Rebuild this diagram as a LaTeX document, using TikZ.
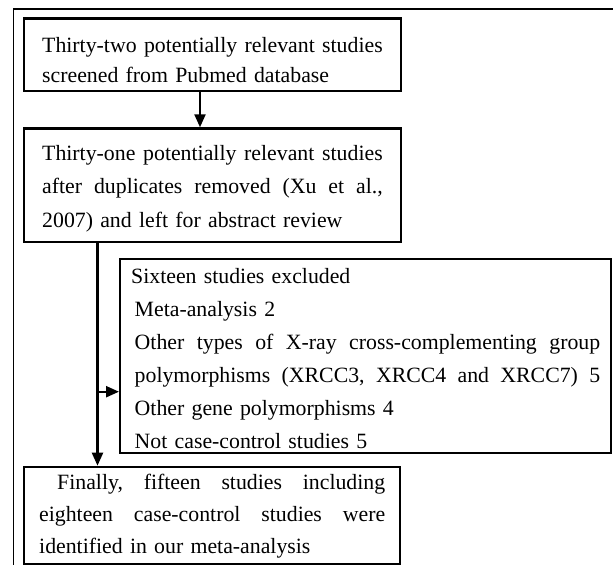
\documentclass[tikz,border=0pt]{standalone}
\usepackage{fontspec}
\setmainfont{Liberation Serif}
\usetikzlibrary{arrows.meta}
\newcommand{\jl}[2]{\makebox[#1][l]{#2}}
\begin{document}
\begin{tikzpicture}[x=1bp,y=-1bp,
  box/.style={draw,line width=2.4bp,anchor=north west,inner ysep=0pt,align=left},
  conn/.style={line width=2.2bp,-{Triangle[length=13bp,width=11bp]}},
  frame/.style={line width=1.8bp}]
\useasboundingbox (0,0) rectangle (613,565);
\draw[frame] (13.5,565) -- (13.5,9) -- (613,9);
% box 1
\node[box,inner xsep=18.5bp,text width=340.5bp,text height=34.2bp,text depth=38.3bp,
  font=\fontsize{21.8bp}{30bp}\selectfont] (b1) at (22.5,17.5)
  {\jl{340.5bp}{Thirty-two\hfill potentially\hfill relevant\hfill studies}\\screened from Pubmed database};
% box 2
\node[box,inner xsep=18.5bp,text width=340.5bp,text height=32bp,text depth=81.7bp,
  font=\fontsize{21.8bp}{33.3bp}\selectfont] (b2) at (22.5,127.3)
  {\jl{340.5bp}{Thirty-one\hfill potentially\hfill relevant\hfill studies}\\
   \jl{340.5bp}{after\hfill duplicates\hfill removed\hfill (Xu\hfill et\hfill al.,}\\
   2007) and left for abstract review};
% box 3
\node[box,inner xsep=11bp,text width=469bp,text height=24bp,text depth=170bp,
  font=\fontsize{21.8bp}{33bp}\selectfont] (b3) at (119,258)
  {Sixteen studies excluded\\
   \hspace*{3.5bp}Meta-analysis 2\\
   \hspace*{3.5bp}\jl{465.5bp}{Other\hfill types\hfill of\hfill X-ray\hfill cross-complementing\hfill group}\\
   \hspace*{3.5bp}\jl{465.5bp}{polymorphisms\hfill (XRCC3,\hfill XRCC4\hfill and\hfill XRCC7)\hfill 5}\\
   \hspace*{3.5bp}Other gene polymorphisms 4\\
   \hspace*{3.5bp}Not case-control studies 5};
% box 4
\node[box,inner xsep=15bp,text width=346bp,text height=22.3bp,text depth=75bp,
  font=\fontsize{21.8bp}{32bp}\selectfont] (b4) at (23,465.7)
  {\hspace*{18bp}\jl{328bp}{Finally,\hfill fifteen\hfill studies\hfill including}\\
   \jl{346bp}{eighteen\hfill case-control\hfill studies\hfill were}\\
   identified in our meta-analysis};
% connectors
\coordinate (c1) at (200,0);
\coordinate (c2) at (97.5,0);
\coordinate (j) at (97.5,391.7);
\draw[conn] (b1.south -| c1) -- (b2.north -| c1);
\draw[conn] (b2.south -| c2) -- (b4.north -| c2);
\draw[conn] (j) -- (j -| b3.west);
\end{tikzpicture}
\end{document}
